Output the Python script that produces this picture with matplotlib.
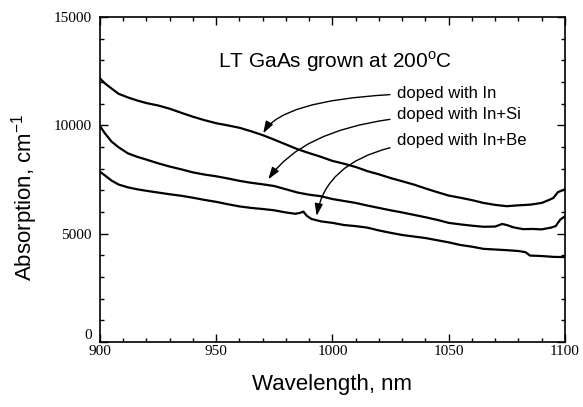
import matplotlib.pyplot as plt
from matplotlib.ticker import MultipleLocator

# absorption spectra, values in units of 1000 cm^-1
wl_in = [900, 902, 905, 908, 912, 916, 920, 925, 930, 935, 940, 945, 950, 955, 960,
         965, 970, 975, 980, 985, 990, 995, 1000, 1005, 1010, 1015, 1020, 1025, 1030,
         1035, 1040, 1045, 1050, 1055, 1060, 1065, 1070, 1075, 1080, 1085, 1090, 1093,
         1095, 1097, 1100]
abs_in = [12.17, 11.95, 11.70, 11.46, 11.29, 11.15, 11.03, 10.92, 10.77, 10.58, 10.40,
          10.24, 10.10, 10.00, 9.89, 9.73, 9.55, 9.34, 9.12, 8.90, 8.72, 8.55, 8.36,
          8.23, 8.08, 7.89, 7.74, 7.57, 7.42, 7.27, 7.09, 6.92, 6.76, 6.66, 6.55, 6.42,
          6.33, 6.27, 6.31, 6.34, 6.42, 6.55, 6.65, 6.92, 7.05]

wl_si = [900, 902, 905, 908, 912, 916, 920, 925, 930, 935, 940, 945, 950, 955, 960,
         965, 970, 975, 980, 985, 990, 995, 1000, 1005, 1010, 1015, 1020, 1025, 1030,
         1035, 1040, 1045, 1050, 1055, 1060, 1065, 1070, 1073, 1075, 1078, 1082, 1086,
         1090, 1094, 1096, 1098, 1100]
abs_si = [9.97, 9.65, 9.25, 8.99, 8.71, 8.55, 8.42, 8.25, 8.10, 7.97, 7.83, 7.73, 7.65,
          7.55, 7.44, 7.35, 7.28, 7.20, 7.05, 6.90, 6.80, 6.73, 6.60, 6.51, 6.42, 6.30,
          6.19, 6.08, 5.98, 5.87, 5.76, 5.64, 5.50, 5.43, 5.37, 5.32, 5.33, 5.45, 5.40,
          5.29, 5.21, 5.22, 5.20, 5.28, 5.35, 5.65, 5.80]

wl_be = [900, 902, 905, 908, 912, 916, 920, 925, 930, 935, 940, 945, 950, 955, 960,
         965, 970, 975, 980, 984, 986, 987.5, 989, 991, 995, 1000, 1005, 1010, 1015,
         1020, 1025, 1030, 1035, 1040, 1045, 1050, 1055, 1060, 1065, 1070, 1075, 1080,
         1083, 1085, 1090, 1095, 1100]
abs_be = [7.86, 7.70, 7.45, 7.27, 7.14, 7.05, 6.98, 6.90, 6.82, 6.75, 6.66, 6.56, 6.47,
          6.36, 6.26, 6.19, 6.14, 6.08, 5.98, 5.92, 5.96, 6.02, 5.82, 5.68, 5.57, 5.50,
          5.40, 5.35, 5.28, 5.15, 5.04, 4.94, 4.87, 4.80, 4.70, 4.60, 4.48, 4.40, 4.30,
          4.27, 4.24, 4.20, 4.15, 3.99, 3.97, 3.93, 3.92]

labels = ['doped with In', 'doped with In+Si', 'doped with In+Be']
label_y = [11.49, 10.48, 9.32]
arrow_tips = [(970.2, 9.63), (972.4, 7.51), (993.2, 5.82)]
arrow_angles = [60, 55, 80]

plt.rcParams['font.family'] = ['Liberation Sans', 'DejaVu Sans']

fig = plt.figure(figsize=(5.83, 4.07), dpi=100)
ax = fig.add_axes([0.1715, 0.1597, 0.7975, 0.7983])

for wl, a in [(wl_in, abs_in), (wl_si, abs_si), (wl_be, abs_be)]:
    ax.plot(wl, [v * 1000 for v in a], color='black', lw=1.6)

ax.set_xlim(900, 1100)
ax.set_ylim(0, 15000)
ax.xaxis.set_major_locator(MultipleLocator(50))
ax.xaxis.set_minor_locator(MultipleLocator(10))
ax.yaxis.set_major_locator(MultipleLocator(5000))
ax.yaxis.set_minor_locator(MultipleLocator(1000))
ax.tick_params(which='both', direction='in', top=True, right=True, width=1)
ax.tick_params(which='major', length=6)
ax.tick_params(which='minor', length=3)
ax.tick_params(axis='x', pad=2)
ax.tick_params(axis='y', pad=6)
for lab in ax.get_xticklabels() + ax.get_yticklabels():
    lab.set_family('Liberation Serif')
    lab.set_fontsize(11)
for sp in ax.spines.values():
    sp.set_linewidth(1.2)

# the "0" label sits on top of the axis line, above "900"
for tick in ax.yaxis.get_major_ticks():
    if tick.get_loc() == 0:
        tick.label1.set_verticalalignment('bottom')

ax.set_xlabel('Wavelength, nm', fontsize=16)
ax.set_ylabel('Absorption, cm$^\\mathregular{-1}$', fontsize=16)
ax.xaxis.set_label_coords(0.5, -0.10)
ax.yaxis.set_label_coords(-0.13, 0.446)

ax.text(1001, 12920, 'LT GaAs grown at 200$^\\mathregular{o}$C', fontsize=15,
        ha='center', va='center')

for text, ty, tip, ang in zip(labels, label_y, arrow_tips, arrow_angles):
    ax.annotate(text, xy=(tip[0], tip[1] * 1000), xytext=(1027.7, ty * 1000),
                fontsize=12, ha='left', va='center',
                arrowprops=dict(arrowstyle='-|>,head_length=0.6,head_width=0.2',
                                color='black', lw=1, shrinkA=3, shrinkB=0,
                                connectionstyle='angle3,angleA=0,angleB=%d' % ang))

fig.savefig('out.png', dpi=100)
